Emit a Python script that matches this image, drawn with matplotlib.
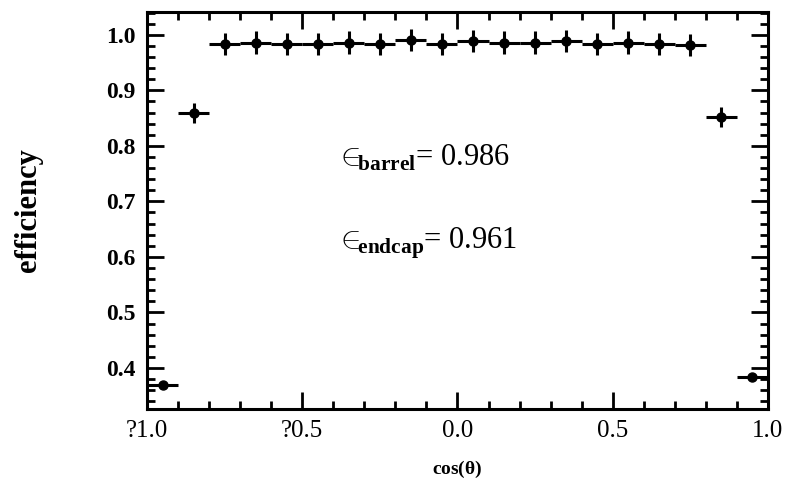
import matplotlib.pyplot as plt
from matplotlib.ticker import MultipleLocator, FixedLocator

plt.rcParams['font.family'] = ['Liberation Serif', 'DejaVu Serif']
plt.rcParams['mathtext.fontset'] = 'custom'
plt.rcParams['mathtext.rm'] = 'Liberation Serif'
plt.rcParams['mathtext.bf'] = 'Liberation Serif:bold'

# bin centres in cos(theta), width 0.1
cos_theta = [-0.95, -0.85, -0.75, -0.65, -0.55, -0.45, -0.35, -0.25, -0.15, -0.05,
             0.05, 0.15, 0.25, 0.35, 0.45, 0.55, 0.65, 0.75, 0.85, 0.95]
eff = [0.369, 0.860, 0.983, 0.986, 0.983, 0.984, 0.986, 0.983, 0.990, 0.983,
       0.989, 0.986, 0.986, 0.989, 0.984, 0.986, 0.983, 0.982, 0.852, 0.384]
eff_err = [0.004, 0.018, 0.020, 0.020, 0.020, 0.020, 0.020, 0.020, 0.020, 0.020,
           0.020, 0.020, 0.020, 0.020, 0.020, 0.020, 0.020, 0.020, 0.018, 0.004]
bin_half = [0.05] * len(cos_theta)

x_tick_pos = [-1.0, -0.5, 0.0, 0.5, 1.0]
x_tick_lab = ['?1.0', '?0.5', '0.0', '0.5', '1.0']

fig = plt.figure(figsize=(7.87, 4.87), dpi=100)
ax = fig.add_axes([0.1868, 0.160, 0.789, 0.8154])

ax.errorbar(cos_theta, eff, yerr=eff_err, xerr=bin_half, fmt='o', color='black',
            markersize=6.5, elinewidth=2.2, capsize=0)

ax.set_xlim(-1.0, 1.0)
ax.set_ylim(0.326, 1.041)

ax.xaxis.set_major_locator(FixedLocator(x_tick_pos))
ax.set_xticklabels(x_tick_lab, fontsize=18)
ax.xaxis.set_minor_locator(MultipleLocator(0.1))
ax.yaxis.set_major_locator(MultipleLocator(0.1))
ax.yaxis.set_minor_locator(MultipleLocator(0.02))
for lab in ax.get_yticklabels():
    lab.set_fontsize(17)
    lab.set_fontweight('bold')

ax.tick_params(which='both', direction='in', top=True, right=True, width=2, colors='black')
ax.tick_params(which='major', length=12, pad=8)
ax.tick_params(which='minor', length=6)
for s in ax.spines.values():
    s.set_linewidth(2.2)

ax.set_xlabel(r'cos($\mathbf{\theta}$)', fontsize=14, fontweight='bold', labelpad=12)
ax.set_ylabel('efficiency', fontsize=22, fontweight='bold', labelpad=46)

ax.text(-0.395, 0.778, r'${\in\!\!}_{\mathbf{barrel}}$= 0.986', fontsize=22, va='center')
ax.text(-0.395, 0.625, r'${\in\!\!}_{\mathbf{endcap}}$= 0.961', fontsize=22, va='center')

fig.savefig('out.png', dpi=100)
